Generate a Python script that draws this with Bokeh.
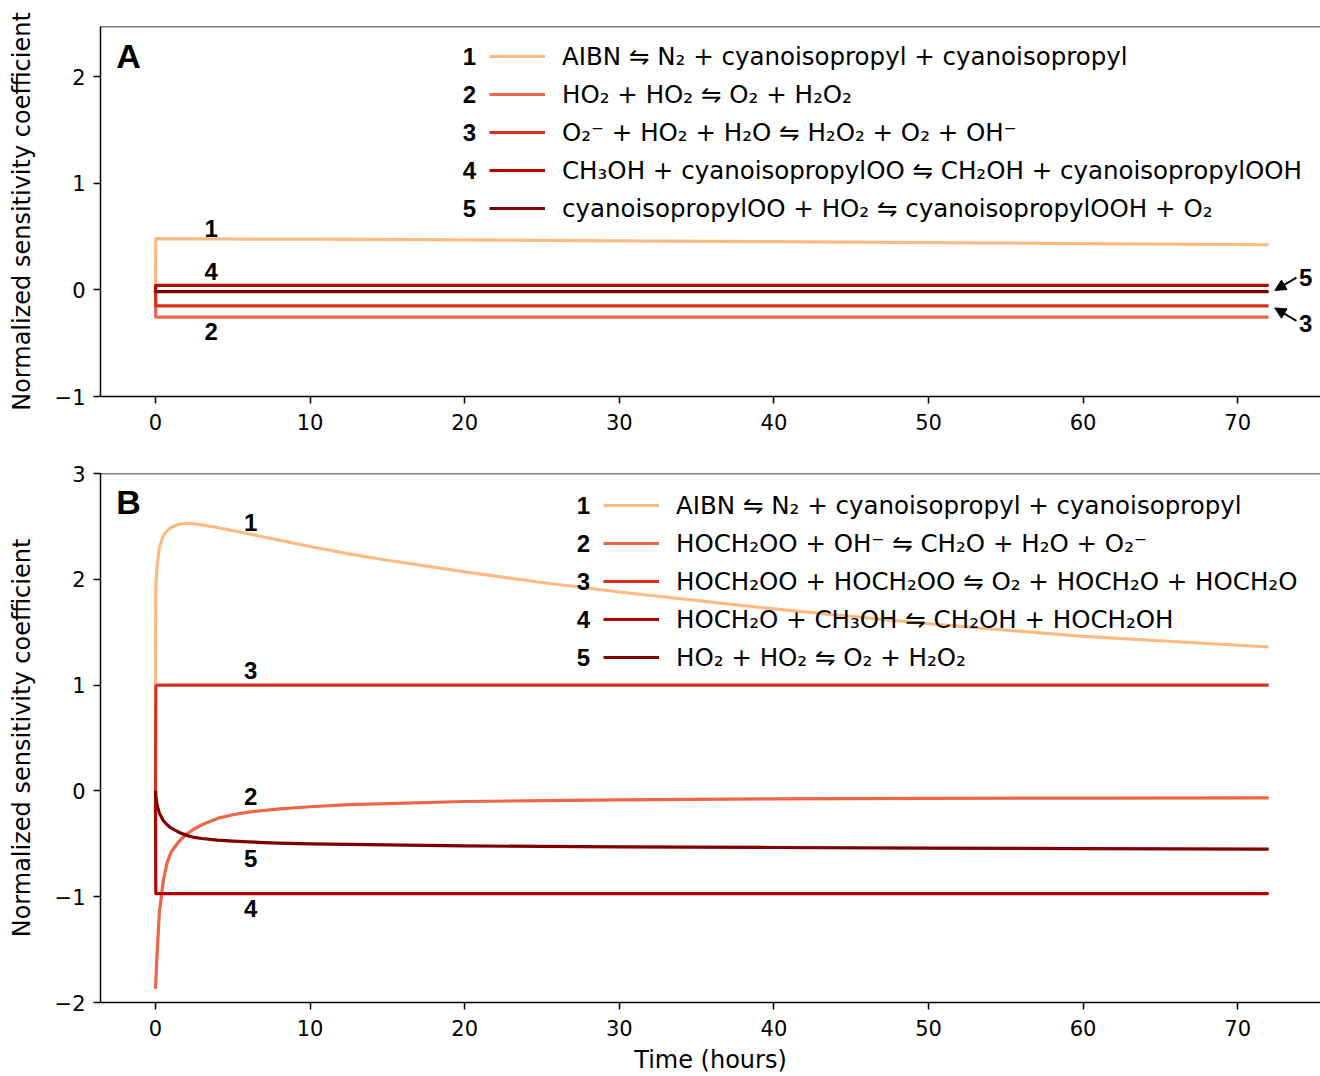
from bokeh.plotting import figure
from bokeh.models import (Range1d, FixedTicker, Legend, LegendItem, Label, Arrow,
                          NormalHead, Span)
from bokeh.layouts import column
from bokeh.embed import file_html
from bokeh.resources import INLINE

# ---------------- data ----------------
colors = ["#fdbb84", "#ef6548", "#d7301f", "#b30000", "#7f0000"]

# Panel A
time_a = [0, 0.02, 10, 20, 30, 40, 50, 60, 72]
a_r1 = [0, 0.48, 0.475, 0.468, 0.46, 0.452, 0.443, 0.434, 0.423]
a_r2 = [0, -0.255, -0.255, -0.255, -0.255, -0.255, -0.255, -0.255, -0.255]
a_r3 = [0, -0.15, -0.15, -0.15, -0.15, -0.15, -0.15, -0.15, -0.15]
a_r4 = [0, 0.042, 0.042, 0.042, 0.042, 0.042, 0.042, 0.042, 0.042]
a_r5 = [0, -0.016, -0.016, -0.016, -0.016, -0.016, -0.016, -0.016, -0.016]
a_labels = [
    "AIBN ⇋ N₂ + cyanoisopropyl + cyanoisopropyl",
    "HO₂ + HO₂ ⇋ O₂ + H₂O₂",
    "O₂⁻ + HO₂ + H₂O ⇋ H₂O₂ + O₂ + OH⁻",
    "CH₃OH + cyanoisopropylOO ⇋ CH₂OH + cyanoisopropylOOH",
    "cyanoisopropylOO + HO₂ ⇋ cyanoisopropylOOH + O₂",
]

# Panel B
time_b = [0, 0.02, 0.1, 0.25, 0.5, 0.75, 1, 1.5, 2, 2.5, 3, 4, 5, 6, 7, 8, 10, 12.5,
          15, 20, 25, 30, 40, 50, 60, 72]
b_r1 = [1.0, 1.93, 2.12, 2.3, 2.41, 2.46, 2.49, 2.52, 2.53, 2.525, 2.515, 2.49, 2.46,
        2.43, 2.40, 2.37, 2.31, 2.24, 2.18, 2.07, 1.97, 1.88, 1.72, 1.58, 1.46, 1.36]
b_r2 = [-1.87, -1.8, -1.55, -1.15, -0.85, -0.68, -0.58, -0.48, -0.41, -0.36, -0.32,
        -0.26, -0.225, -0.2, -0.185, -0.17, -0.15, -0.13, -0.12, -0.10, -0.092, -0.085,
        -0.075, -0.07, -0.068, -0.066]
b_r3 = [0, 0.99, 1.0, 1.0, 1.0, 1.0, 1.0, 1.0, 1.0, 1.0, 1.0, 1.0, 1.0, 1.0, 1.0, 1.0,
        1.0, 1.0, 1.0, 1.0, 1.0, 1.0, 1.0, 1.0, 1.0, 1.0]
b_r4 = [0, -0.97, -0.97, -0.97, -0.97, -0.97, -0.97, -0.97, -0.97, -0.97, -0.97, -0.97,
        -0.97, -0.97, -0.97, -0.97, -0.97, -0.97, -0.97, -0.97, -0.97, -0.97, -0.97,
        -0.97, -0.97, -0.97]
b_r5 = [0, -0.05, -0.13, -0.21, -0.28, -0.32, -0.35, -0.39, -0.42, -0.44, -0.45, -0.465,
        -0.475, -0.482, -0.488, -0.493, -0.5, -0.505, -0.51, -0.52, -0.525, -0.53,
        -0.535, -0.54, -0.545, -0.55]
b_labels = [
    "AIBN ⇋ N₂ + cyanoisopropyl + cyanoisopropyl",
    "HOCH₂OO + OH⁻ ⇋ CH₂O + H₂O + O₂⁻",
    "HOCH₂OO + HOCH₂OO ⇋ O₂ + HOCH₂O + HOCH₂O",
    "HOCH₂O + CH₃OH ⇋ CH₂OH + HOCH₂OH",
    "HO₂ + HO₂ ⇋ O₂ + H₂O₂",
]

numbers = ["1", "2", "3", "4", "5"]
x_ticks = [0, 10, 20, 30, 40, 50, 60, 70]
a_y_ticks = [-1, 0, 1, 2]
b_y_ticks = [-2, -1, 0, 1, 2, 3]

# inline curve labels (text, time, value)
a_tag_text = ["1", "4", "2", "5", "3"]
a_tag_x = [3.6, 3.6, 3.6, 74.4, 74.4]
a_tag_y = [0.58, 0.17, -0.395, 0.12, -0.32]
# arrows for labels 5 and 3 in panel A (tail -> head)
a_arrow_x0 = [73.8, 73.8]
a_arrow_y0 = [0.115, -0.29]
a_arrow_x1 = [72.4, 72.4]
a_arrow_y1 = [-0.005, -0.17]

b_tag_text = ["1", "3", "2", "5", "4"]
b_tag_x = [6.15, 6.15, 6.15, 6.15, 6.15]
b_tag_y = [2.54, 1.14, -0.057, -0.64, -1.11]

FONT = "DejaVu Sans"
BOLD = "Liberation Sans"
PAGE_W = 1320
LEFT = 100


def minus(v):
    return ("\u2212" + str(abs(v))) if v < 0 else str(v)


def make_panel(times, series, labels, y_range, y_ticks, height, top, bottom,
               legend_x, legend_top, panel_letter, tags, show_xlabel):
    # 15.46 px per hour, time 0 at 55 px right of the frame's left edge
    frame_w = PAGE_W - LEFT
    x0 = -55 / 15.46
    x1 = x0 + frame_w / 15.46
    p = figure(width=PAGE_W, height=height,
               x_range=Range1d(x0, x1), y_range=Range1d(*y_range),
               output_backend="svg", toolbar_location=None,
               min_border_left=LEFT, min_border_right=0,
               min_border_top=top, min_border_bottom=bottom)
    p.outline_line_color = None
    p.xgrid.visible = False
    p.ygrid.visible = False
    p.background_fill_color = "white"
    p.border_fill_color = "white"

    renderers = []
    for vals, c in zip(series, colors):
        r = p.line(times, vals, line_color=c, line_width=3.2, line_join="round")
        renderers.append(r)

    # axes styling
    for ax in (p.xaxis[0], p.yaxis[0]):
        ax.axis_line_width = 1.5
        ax.major_tick_line_width = 1.5
        ax.major_tick_out = 7
        ax.major_tick_in = 0
        ax.minor_tick_out = 0
        ax.minor_tick_in = 0
        ax.major_label_text_font = FONT
        ax.major_label_text_font_size = "21px"
        ax.major_label_text_color = "black"
        ax.axis_label_text_font = FONT
        ax.axis_label_text_font_size = "24px"
        ax.axis_label_text_font_style = "normal"
        ax.axis_label_text_color = "black"
    p.xaxis.ticker = FixedTicker(ticks=x_ticks)
    p.yaxis.ticker = FixedTicker(ticks=y_ticks)
    p.yaxis.major_label_overrides = {v: minus(v) for v in y_ticks}
    p.yaxis.major_label_standoff = 8
    p.yaxis.axis_label = "Normalized sensitivity coefficient"
    p.yaxis.axis_label_standoff = 16
    p.xaxis.major_label_standoff = 10
    if show_xlabel:
        p.xaxis.axis_label = "Time (hours)"
        p.xaxis.axis_label_standoff = 7

    # top spine
    p.add_layout(Span(location=y_range[1], dimension="width",
                      line_color="black", line_width=1.5))

    # legend
    frame_h = height - top - bottom
    row_h = 30
    spacing = 8
    n = len(labels)
    leg_h = n * row_h + (n - 1) * spacing
    leg_bottom = frame_h - legend_top - leg_h
    legend = Legend(
        items=[LegendItem(label=l, renderers=[r]) for l, r in zip(labels, renderers)],
        location=(legend_x, leg_bottom),
        glyph_width=56, glyph_height=row_h, label_height=row_h,
        label_standoff=17, spacing=spacing, padding=0, margin=0,
        border_line_alpha=0, background_fill_alpha=0,
        label_text_font=FONT, label_text_font_size="24.5px",
        label_text_color="black",
    )
    p.add_layout(legend)
    for i, num in enumerate(numbers):
        cy = frame_h - legend_top - row_h / 2 - i * (row_h + spacing)
        p.add_layout(Label(x=legend_x - 20, y=cy, x_units="screen", y_units="screen",
                           text=num, text_align="center", text_baseline="middle",
                           text_font=BOLD, text_font_style="bold",
                           text_font_size="24px", text_color="black"))

    # panel letter
    p.add_layout(Label(x=28, y=frame_h - 29, x_units="screen", y_units="screen",
                       text=panel_letter, text_align="center", text_baseline="middle",
                       text_font=BOLD, text_font_style="bold", text_font_size="34px",
                       text_color="black"))

    # curve tags
    tx, ty, tt = tags
    for t, xv, yv in zip(tt, tx, ty):
        p.add_layout(Label(x=xv, y=yv, text=t, text_align="center",
                           text_baseline="middle", text_font=BOLD,
                           text_font_style="bold", text_font_size="24px",
                           text_color="black"))
    return p


pa = make_panel(time_a, [a_r1, a_r2, a_r3, a_r4, a_r5], a_labels, (-1, 2.47), a_y_ticks,
                height=448, top=26, bottom=52, legend_x=389, legend_top=15,
                panel_letter="A", tags=(a_tag_x, a_tag_y, a_tag_text), show_xlabel=False)
for xs, ys, xe, ye in zip(a_arrow_x0, a_arrow_y0, a_arrow_x1, a_arrow_y1):
    pa.add_layout(Arrow(x_start=xs, y_start=ys, x_end=xe, y_end=ye, line_width=2,
                        line_color="black",
                        end=NormalHead(size=11, fill_color="black", line_color="black")))

pb = make_panel(time_b, [b_r1, b_r2, b_r3, b_r4, b_r5], b_labels, (-2, 3), b_y_ticks,
                height=628, top=25, bottom=73, legend_x=503, legend_top=18,
                panel_letter="B", tags=(b_tag_x, b_tag_y, b_tag_text), show_xlabel=True)

layout = column(pa, pb, spacing=0)
open("out.html", "w").write(file_html(layout, INLINE))
